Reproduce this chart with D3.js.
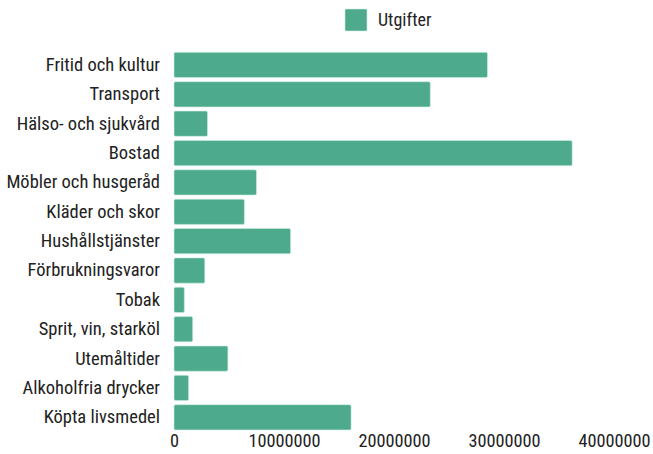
<!DOCTYPE html>
<html>
<head>
<meta charset="utf-8">
<script src="https://cdn.jsdelivr.net/npm/d3@7"></script>
<style>
  body { margin: 0; background: #fff; }
  text { font-family: "Roboto Condensed", "Liberation Sans Narrow", Roboto, sans-serif; fill: #222; }
</style>
</head>
<body>
<div id="chart"></div>
<script>
// categories top to bottom
var categories = ["Fritid och kultur", "Transport", "Hälso- och sjukvård", "Bostad",
  "Möbler och husgeråd", "Kläder och skor", "Hushållstjänster", "Förbrukningsvaror",
  "Tobak", "Sprit, vin, starköl", "Utemåltider", "Alkoholfria drycker", "Köpta livsmedel"];
var utgifter = [28500000, 23300000, 3050000, 36200000, 7500000, 6400000, 10600000,
  2800000, 940000, 1700000, 4900000, 1330000, 16100000];
var xTicks = [0, 10000000, 20000000, 30000000, 40000000];
var seriesName = "Utgifter";

var barColor = "#4daa8d";
var width = 653, height = 454;

var svg = d3.select("#chart").append("svg")
  .attr("width", width)
  .attr("height", height);

var x = d3.scaleLinear().domain([0, 40000000]).range([174, 614]);
var y = d3.scaleBand().domain(categories).range([50.3, 432]).paddingInner(0.14).paddingOuter(0.07);

// bars
svg.selectAll(".bar")
  .data(categories)
  .enter()
  .append("rect")
  .attr("class", "bar")
  .attr("x", x(0))
  .attr("y", function(d) { return y(d); })
  .attr("width", function(d, i) { return x(utgifter[i]) - x(0); })
  .attr("height", y.bandwidth())
  .attr("rx", 1.5)
  .style("fill", barColor)
  .style("stroke", "#cfeee2")
  .style("stroke-width", 0.6);

// category labels
var yAxis = svg.append("g")
  .attr("transform", "translate(174,0)")
  .call(d3.axisLeft(y).tickSize(0).tickPadding(14));
yAxis.select(".domain").remove();
yAxis.selectAll("text")
  .style("font-size", "18.5px")
  .style("fill", "#222");

// value axis
var xAxis = svg.append("g")
  .attr("transform", "translate(0,432)")
  .call(d3.axisBottom(x).tickValues(xTicks).tickFormat(d3.format("d")).tickSize(0).tickPadding(2));
xAxis.select(".domain").remove();
xAxis.selectAll("text")
  .style("font-size", "18.3px")
  .style("fill", "#222");

// legend
var legend = svg.append("g").attr("transform", "translate(345,9)");
legend.append("rect")
  .attr("width", 22)
  .attr("height", 22)
  .attr("rx", 1)
  .style("fill", barColor)
  .style("stroke", "#cfeee2")
  .style("stroke-width", 0.6);
legend.append("text")
  .attr("x", 33)
  .attr("y", 11)
  .attr("dy", "0.35em")
  .style("font-size", "18px")
  .text(seriesName);
</script>
</body>
</html>
